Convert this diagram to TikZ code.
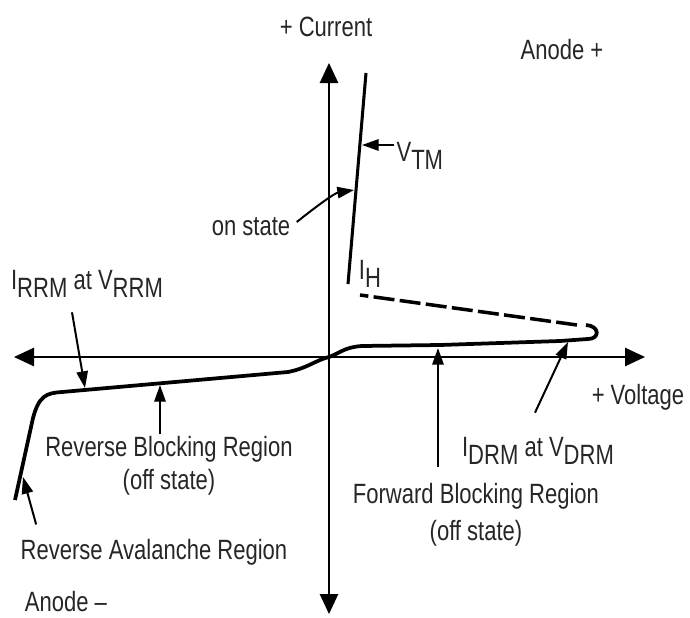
\documentclass[tikz,border=0pt]{standalone}
\usepackage{fontspec}
\setmainfont[FakeStretch=0.79]{Liberation Sans}
\usetikzlibrary{positioning, arrows.meta, calc}
\newcommand{\lowsub}[1]{\raisebox{-0.3em}{#1}}

\begin{document}
\begin{tikzpicture}[x=0.03cm, y=-0.03cm,
    axisline/.style={line width=1.4pt, {Triangle[length=0.6cm,width=0.55cm]}-{Triangle[length=0.6cm,width=0.55cm]}},
    ivcurve/.style={line width=3.2pt, line join=round},
    pointer/.style={line width=1.7pt, -{Triangle[length=0.5cm,width=0.34cm]}},
    lbl/.style={font=\fontsize{23.8}{28}\selectfont, text=black!85, inner sep=2pt}]
  \useasboundingbox (0,0) rectangle (690,618);

  % assi tensione / corrente
  \coordinate (o) at (329,357);
  \coordinate (vl) at (14,357);
  \coordinate (vr) at (645,357);
  \coordinate (ct) at (329,63);
  \coordinate (cb) at (329,614);
  \draw[axisline] (vl) -- (vr);
  \draw[axisline] (cb) -- (ct);

  % caratteristica: ramo inverso e ramo diretto
  \draw[ivcurve] (15,500) -- (33,418) .. controls (39,396) and (46,393) .. (62,392)
    -- (288,372) .. controls (308,368) and (316,360) .. (o)
    .. controls (340,353) and (345,347) .. (362,346) -- (440,345) -- (560,341) -- (588,339)
    .. controls (600,339) and (600,326) .. (586,325);
  \draw[ivcurve, line width=3pt, dash pattern=on 0.63cm off 0.16cm] (577,325) -- (360,295);
  % stato di conduzione
  \draw[line width=2.6pt] (366,73) -- (348,284);

  % punti indicati dalle frecce
  \coordinate (tm) at (362,145);
  \coordinate (on) at (354,190);
  \coordinate (rrm) at (85,388);
  \coordinate (rb) at (160,385);
  \coordinate (ra) at (23,477);
  \coordinate (fb) at (438,348);
  \coordinate (drm) at (568,342);

  % etichette
  \node[lbl] (cur) at (326,27) {+ Current};
  \node[lbl] (anp) at (562,50) {Anode +};
  \node[lbl] (volt) at (638,397) {+ Voltage};
  \node[lbl] (anm) at (66,602) {Anode –};
  \node[lbl, anchor=west] (vtm) at (394,156) {V\lowsub{TM}};
  \node[lbl] (onst) at (251,227) {on state};
  \node[lbl] (ih) at (370,274) {I\lowsub{H}};
  \node[lbl] (irrm) at (87,284) {I\lowsub{RRM} at V\lowsub{RRM}};
  \node[lbl] (idrm) at (538,451) {I\lowsub{DRM} at V\lowsub{DRM}};
  \node[lbl, align=center] (rbr) at (169,466) {Reverse Blocking Region\\(off state)};
  \node[lbl, align=center] (fbr) at (476,515) {Forward Blocking Region\\[4pt](off state)};
  \node[lbl] (rar) at (154,552) {Reverse Avalanche Region};

  % frecce
  \draw[pointer] (vtm.west |- tm) -- (tm);
  \draw[pointer] ($(onst.east)+(4,-5)$) .. controls (318,205) and (335,193) .. (on);
  \draw[pointer] ($(irrm.south)+(-15,12)$) -- (rrm);
  \draw[pointer] (rbr.north -| rb) -- (rb);
  \draw[pointer] ($(rar.north west)+(18,-12)$) -- (ra);
  \draw[pointer] ($(fbr.north -| fb)+(0,-14)$) -- (fb);
  \draw[pointer] ($(idrm.north)+(-3,-22)$) -- (drm);
\end{tikzpicture}
\end{document}
